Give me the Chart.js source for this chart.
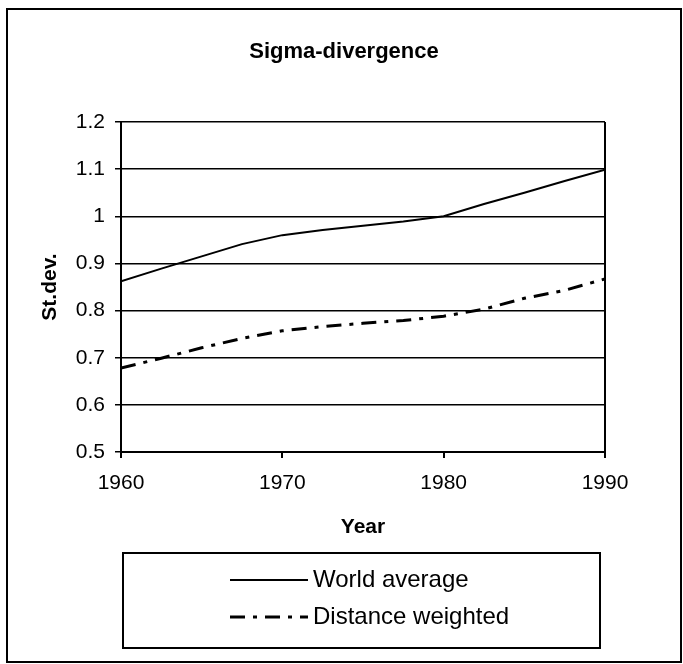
<!DOCTYPE html>
<html>
<head>
<meta charset="utf-8">
<script src="https://cdn.jsdelivr.net/npm/chart.js@4.4.1/dist/chart.umd.min.js"></script>
<style>
  html, body { margin: 0; padding: 0; background: #fff; }
  #wrap { position: relative; width: 683px; height: 664px; }
</style>
</head>
<body>
<div id="wrap"><canvas id="chart" width="683" height="664"></canvas></div>
<script>
// data
const years = [1960, 1962.5, 1965, 1967.5, 1970, 1972.5, 1975, 1977.5, 1980, 1982.5, 1985, 1987.5, 1990];
const worldAverage = [0.862, 0.889, 0.915, 0.941, 0.960, 0.971, 0.980, 0.989, 1.000, 1.026, 1.050, 1.075, 1.099];
const distanceWeighted = [0.678, 0.699, 0.721, 0.741, 0.757, 0.766, 0.773, 0.779, 0.788, 0.803, 0.826, 0.843, 0.867];
const xTicks = [1960, 1970, 1980, 1990];
const seriesLabels = ['World average', 'Distance weighted'];

const FONT = "'Liberation Sans', Arial, sans-serif";

const toPoints = (ys) => years.map((x, i) => ({ x, y: ys[i] }));

const framePlugin = {
  id: 'frame',
  beforeDraw(chart) {
    const ctx = chart.ctx;
    ctx.save();
    ctx.fillStyle = '#fff';
    ctx.fillRect(0, 0, chart.width, chart.height);
    ctx.strokeStyle = '#000';
    ctx.lineWidth = 2;
    ctx.strokeRect(7, 9, 674, 653);
    ctx.restore();
  },
  // title sits in the middle of the whole frame, not the plot
  afterLayout(chart) {
    const t = chart.titleBlock;
    if (t) {
      t.left = 7;
      t.right = 681;
      t.width = 674;
    }
  },
};

// boxed legend, one row per series
const boxLegend = {
  id: 'boxLegend',
  afterDraw(chart) {
    const ctx = chart.ctx;
    ctx.save();
    ctx.strokeStyle = '#000';
    ctx.lineWidth = 2;
    ctx.strokeRect(123, 553, 477, 95);
    ctx.font = `24px ${FONT}`;
    ctx.fillStyle = '#000';
    ctx.textBaseline = 'middle';
    ctx.textAlign = 'left';
    chart.data.datasets.forEach((ds, i) => {
      const y = 580 + i * 37;
      ctx.lineWidth = ds.borderWidth;
      ctx.setLineDash(ds.borderDash || []);
      ctx.beginPath();
      ctx.moveTo(230, y);
      ctx.lineTo(308, y);
      ctx.stroke();
      ctx.setLineDash([]);
      ctx.fillText(ds.label, 313, y);
    });
    ctx.restore();
  },
};

new Chart(document.getElementById('chart'), {
  type: 'line',
  data: {
    datasets: [
      {
        label: seriesLabels[0],
        data: toPoints(worldAverage),
        borderColor: '#000',
        borderWidth: 2,
        pointRadius: 0,
        tension: 0,
        fill: false,
      },
      {
        label: seriesLabels[1],
        data: toPoints(distanceWeighted),
        borderColor: '#000',
        borderWidth: 3,
        borderDash: [15, 8, 4, 8],
        pointRadius: 0,
        tension: 0,
        fill: false,
      },
    ],
  },
  options: {
    responsive: false,
    devicePixelRatio: 1,
    animation: false,
    layout: { padding: { top: 0, left: 38, right: 78, bottom: 124 } },
    plugins: {
      legend: { display: false },
      tooltip: { enabled: false },
      title: {
        display: true,
        text: 'Sigma-divergence',
        color: '#000',
        font: { family: FONT, size: 22, weight: 'bold' },
        padding: { top: 38.8, bottom: 56.8 },
      },
    },
    scales: {
      x: {
        type: 'linear',
        min: 1960,
        max: 1990,
        afterBuildTicks: (scale) => { scale.ticks = xTicks.map((v) => ({ value: v })); },
        afterFit: (scale) => { scale.height = 88; },
        ticks: {
          color: '#000',
          font: { family: FONT, size: 21 },
          padding: 13,
          maxRotation: 0,
          callback: (v) => String(v),
        },
        grid: {
          drawOnChartArea: true,
          color: (c) => (c.tick && c.tick.value === 1990 ? '#000' : 'rgba(0,0,0,0)'),
          lineWidth: 2,
          tickColor: '#000',
          tickLength: 6,
          tickWidth: 2,
        },
        border: { display: true, color: '#000', width: 2 },
        title: {
          display: true,
          text: 'Year',
          color: '#000',
          font: { family: FONT, size: 21, weight: 'bold' },
          padding: { top: 0, bottom: 0 },
        },
      },
      y: {
        min: 0.5,
        max: 1.2,
        afterFit: (scale) => { scale.width = 83; },
        ticks: {
          stepSize: 0.1,
          color: '#000',
          font: { family: FONT, size: 21 },
          padding: 10,
          callback: (v) => String(Math.round(v * 10) / 10),
        },
        grid: {
          color: '#000',
          lineWidth: 1.5,
          tickColor: '#000',
          tickLength: 6,
          tickWidth: 1.5,
        },
        border: { display: true, color: '#000', width: 2 },
        title: {
          display: true,
          text: 'St.dev.',
          color: '#000',
          font: { family: FONT, size: 21, weight: 'bold' },
          padding: { top: 0, bottom: 0 },
        },
      },
    },
  },
  plugins: [framePlugin, boxLegend],
});
</script>
</body>
</html>
